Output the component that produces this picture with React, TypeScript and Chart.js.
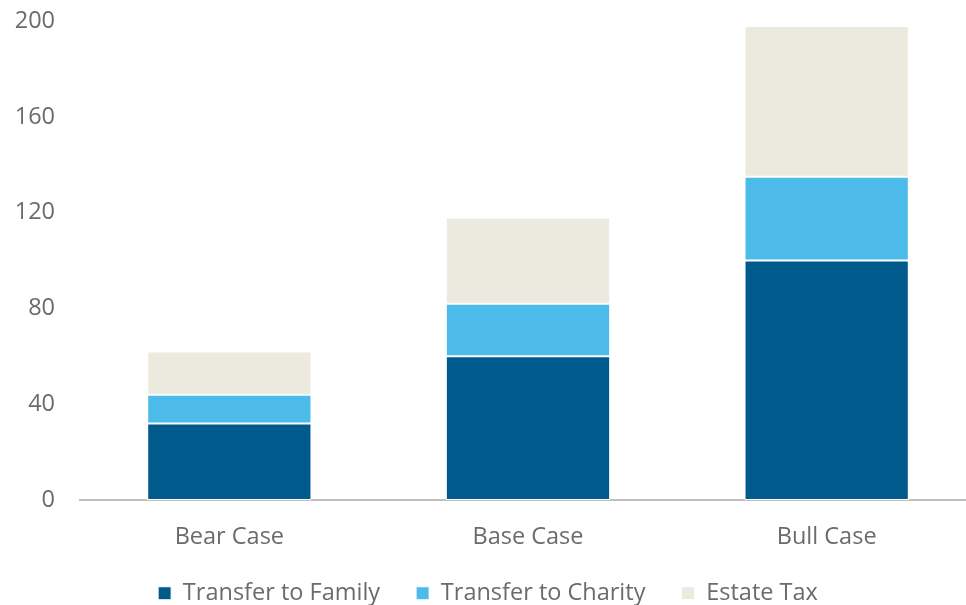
import React, { useEffect, useRef } from "react";
import { Chart, registerables } from "chart.js";

Chart.register(...registerables);

const categories = ["Bear Case", "Base Case", "Bull Case"];
const transferToFamily = [32, 60, 100];
const transferToCharity = [12, 22, 35];
const estateTax = [18, 36, 63];
const yTicks = [0, 40, 80, 120, 160, 200];

const FONT = "'Open Sans', sans-serif";
const TEXT = "#6b6b6b";

export default function App() {
  const ref = useRef<HTMLCanvasElement | null>(null);
  useEffect(() => {
    if (!ref.current) return;
    const chart = new Chart(ref.current, {
      type: "bar",
      data: {
        labels: categories,
        datasets: [
          { label: "Transfer to Family", data: transferToFamily, backgroundColor: "#005A8B" },
          { label: "Transfer to Charity", data: transferToCharity, backgroundColor: "#4CBBE9" },
          { label: "Estate Tax", data: estateTax, backgroundColor: "#ECE9DF" },
        ].map((d) => ({
          ...d,
          borderColor: "#ffffff",
          borderWidth: 1,
          borderSkipped: false,
          categoryPercentage: 1,
          barPercentage: 0.55,
        })),
      },
      options: {
        animation: false,
        responsive: true,
        maintainAspectRatio: false,
        layout: { padding: { top: 0, right: 4, left: 0, bottom: 0 } },
        plugins: {
          tooltip: { enabled: false },
          legend: {
            position: "bottom",
            labels: {
              boxWidth: 13,
              boxHeight: 13,
              padding: 36,
              color: TEXT,
              font: { family: FONT, size: 23.5 },
            },
          },
        },
        scales: {
          x: {
            stacked: true,
            grid: { display: false },
            border: { display: true, color: "#BFBFBF", width: 2 },
            ticks: { color: TEXT, font: { family: FONT, size: 23.5 }, padding: 15 },
            afterFit: (axis: any) => {
              axis.height = 45.5;
            },
          },
          y: {
            stacked: true,
            min: 0,
            max: 200,
            afterBuildTicks: (axis: any) => {
              axis.ticks = yTicks.map((v) => ({ value: v }));
            },
            afterFit: (axis: any) => {
              axis.width = 80;
            },
            grid: { display: false },
            border: { display: false },
            ticks: { color: TEXT, font: { family: FONT, size: 23.5 }, padding: 17 },
          },
        },
      },
    });
    return () => chart.destroy();
  }, []);
  return (
    <div style={{ position: "fixed", left: 0, top: 0, width: 966, height: 605, overflow: "hidden", background: "#fff" }}>
      <div style={{ position: "relative", width: 980, height: 625, marginTop: -10 }}>
        <canvas ref={ref} />
      </div>
    </div>
  );
}
